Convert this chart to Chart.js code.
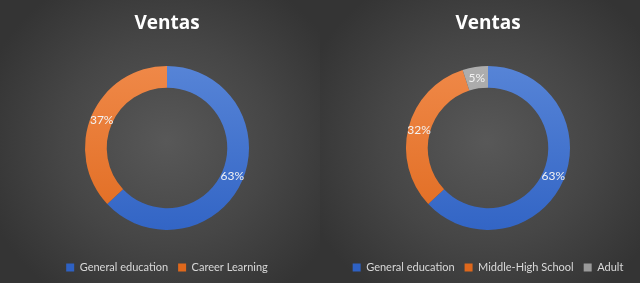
<!DOCTYPE html>
<html>
<head>
<meta charset="utf-8">
<script src="https://cdn.jsdelivr.net/npm/chart.js@4.4.0/dist/chart.umd.min.js"></script>
<style>
  html, body { margin: 0; padding: 0; background: #303030; }
  .wrap { width: 640px; height: 283px; display: flex; overflow: hidden; }
  .panel {
    width: 320px; height: 283px; position: relative;
    background: radial-gradient(ellipse 60% 65% at 52% 50%, #585858 0%, #464646 55%, #343434 100%);
  }
</style>
</head>
<body>
<div class="wrap">
  <div class="panel"><canvas id="leftChart" width="320" height="283"></canvas></div>
  <div class="panel"><canvas id="rightChart" width="320" height="283"></canvas></div>
</div>
<script>
// chart data
const chartTitle = 'Ventas';
const leftLabels = ['General education', 'Career Learning'];
const leftValues = [63, 37];
const rightLabels = ['General education', 'Middle-High School', 'Adult'];
const rightValues = [63, 32, 5];

// Excel-ish colours, top and bottom of the vertical gradient
const sliceColors = [
    ['#5b88d9', '#2e61c3'],
    ['#f18c4d', '#df681c'],
    ['#b0b0b0', '#9a9a9a']
];

function sliceFill(context) {
    const chart = context.chart;
    const area = chart.chartArea;
    const pair = sliceColors[context.dataIndex % sliceColors.length];
    if (!area) return pair[0];
    const g = chart.ctx.createLinearGradient(0, area.top, 0, area.bottom);
    g.addColorStop(0, pair[0]);
    g.addColorStop(1, pair[1]);
    return g;
}

// percentage labels in the middle of each ring segment
const percentLabels = {
    id: 'percentLabels',
    afterDatasetsDraw(chart) {
        const ctx = chart.ctx;
        const meta = chart.getDatasetMeta(0);
        const values = chart.data.datasets[0].data;
        const total = values.reduce((a, b) => a + b, 0);
        ctx.save();
        ctx.font = '12px Lato, "Open Sans", sans-serif';
        ctx.fillStyle = '#f2f2f2';
        ctx.textAlign = 'center';
        ctx.textBaseline = 'middle';
        meta.data.forEach((arc, i) => {
            const pos = arc.tooltipPosition();
            const pct = Math.round(values[i] / total * 100) + '%';
            ctx.fillText(pct, pos.x, pos.y);
        });
        ctx.restore();
    }
};

function makeDonut(id, labels, values, padLeft) {
    return new Chart(document.getElementById(id), {
        type: 'doughnut',
        data: {
            labels: labels,
            datasets: [{
                data: values,
                backgroundColor: sliceFill,
                borderWidth: 0,
                radius: 82,
                cutout: '73.5%'
            }]
        },
        options: {
            responsive: false,
            animation: false,
            layout: { padding: { left: padLeft, right: 0, top: 0, bottom: 0 } },
            plugins: {
                title: {
                    display: true,
                    text: chartTitle,
                    color: '#ffffff',
                    font: { family: '"Open Sans", sans-serif', size: 19, weight: 'bold' },
                    padding: { top: 12, bottom: 9 }
                },
                legend: {
                    position: 'bottom',
                    labels: {
                        color: '#d9d9d9',
                        boxWidth: 8,
                        boxHeight: 8,
                        padding: 10,
                        font: { family: 'Lato, sans-serif', size: 11 }
                    }
                },
                tooltip: { enabled: false }
            }
        },
        plugins: [percentLabels]
    });
}

makeDonut('leftChart', leftLabels, leftValues, 14);
makeDonut('rightChart', rightLabels, rightValues, 16);
</script>
</body>
</html>
